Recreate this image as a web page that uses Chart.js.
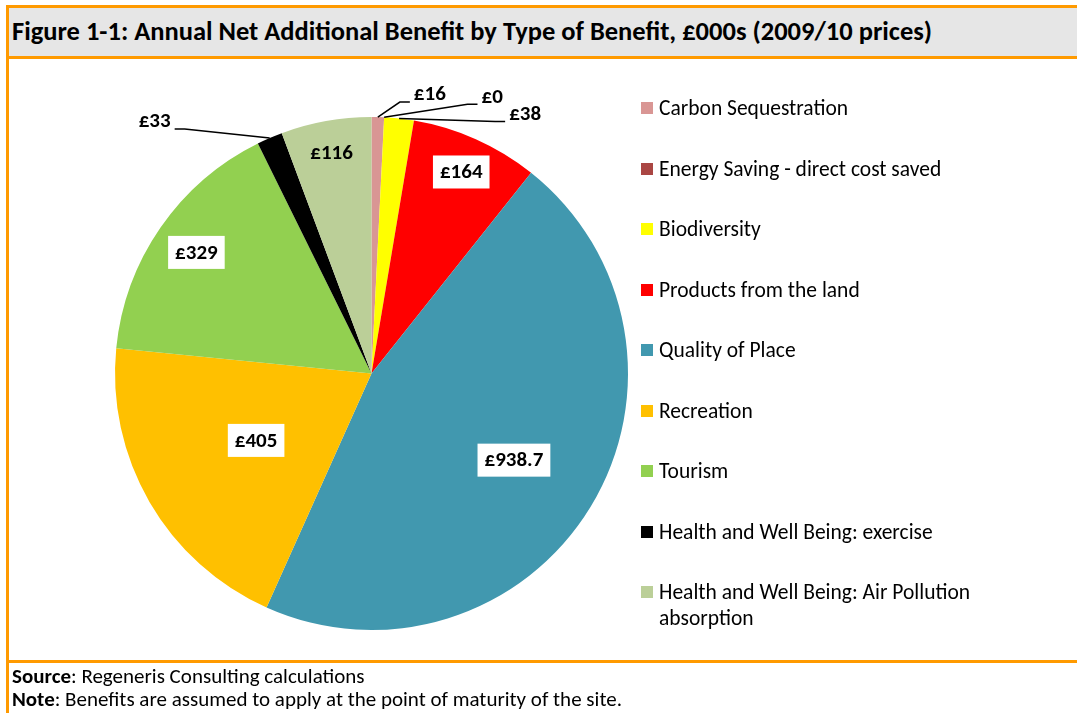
<!DOCTYPE html>
<html>
<head>
<meta charset="utf-8">
<title>Figure 1-1</title>
<script src="https://cdn.jsdelivr.net/npm/chart.js@4.4.1/dist/chart.umd.min.js"></script>
<style>
  body { margin: 0; background: #fff; font-family: Calibri, Carlito, Lato, sans-serif; color: #000; }
  #fig { position: relative; width: 1077px; height: 713px; overflow: hidden; }
  .raya { position: absolute; background: #FF9A00; }
  #cabecera { position: absolute; left: 9px; top: 8px; width: 1068px; height: 48px; background: #E6E6E6; }
  #cabecera span { position: absolute; left: 3px; top: 0; line-height: 47px; font-weight: bold; font-size: 26.5px; white-space: nowrap; }
  #grafica { position: absolute; left: 0; top: 0; }
  #leyenda { position: absolute; left: 641px; top: 95px; margin: 0; padding: 0; list-style: none; font-size: 21.5px; }
  #leyenda li { display: flex; align-items: flex-start; line-height: 26px; margin-bottom: 34.5px; }
  #leyenda i { flex: none; width: 12px; height: 12px; margin: 7px 6px 0 0; }
  #leyenda span { width: 330px; }
  #pie { position: absolute; left: 12px; top: 665px; font-size: 21px; line-height: 23px; }
</style>
</head>
<body>
<div id="fig">
  <div id="cabecera"><span>Figure 1-1: Annual Net Additional Benefit by Type of Benefit, £000s (2009/10 prices)</span></div>
  <div class="raya" style="left:6px; top:5px; width:1071px; height:3px"></div>
  <div class="raya" style="left:6px; top:56px; width:1071px; height:3px"></div>
  <div class="raya" style="left:6px; top:660px; width:1071px; height:3px"></div>
  <div class="raya" style="left:6px; top:5px; width:3px; height:708px"></div>
  <canvas id="grafica" width="1077" height="713"></canvas>
  <ul id="leyenda"></ul>
  <div id="pie">
    <div><b>Source</b>: Regeneris Consulting calculations</div>
    <div><b>Note</b>: Benefits are assumed to apply at the point of maturity of the site.</div>
  </div>
</div>
<script>
// tipos de beneficio, en el orden del gráfico (empieza arriba, sentido horario)
var categorias = [
  'Carbon Sequestration',
  'Energy Saving - direct cost saved',
  'Biodiversity',
  'Products from the land',
  'Quality of Place',
  'Recreation',
  'Tourism',
  'Health and Well Being: exercise',
  'Health and Well Being: Air Pollution absorption'
];
// beneficio neto anual, £000s
var valores = [16, 0, 38, 164, 938.7, 405, 329, 33, 116];
var colores = ['#D99694', '#AA4643', '#FFFF00', '#FF0000', '#4198AF', '#FFC000', '#92D050', '#000000', '#BBCF98'];

// etiquetas de datos: dentro del sector (con o sin caja) o fuera con línea guía
var etiquetasPlugin = {
  id: 'etiquetas',
  afterDatasetsDraw: function (chart, args, opts) {
    var ctx = chart.ctx;
    var meta = chart.getDatasetMeta(0);
    var datos = chart.data.datasets[0].data;
    ctx.save();
    ctx.font = opts.font;
    ctx.textAlign = 'center';
    ctx.textBaseline = 'middle';
    meta.data.forEach(function (arc, i) {
      var p = arc.getProps(['x', 'y', 'startAngle', 'endAngle', 'outerRadius'], true);
      var mid = (p.startAngle + p.endAngle) / 2;
      var texto = '£' + datos[i];
      var w = ctx.measureText(texto).width;
      var fuera = opts.fuera[i];
      if (fuera) {
        var ax = p.x + Math.cos(mid) * p.outerRadius;
        var ay = p.y + Math.sin(mid) * p.outerRadius;
        var lx = ax + fuera[0], ly = ay + fuera[1];
        var lado = fuera[0] < 0 ? 1 : -1;
        var ex = lx + lado * (w / 2 + 4), ey = ly + 7;
        ctx.strokeStyle = '#000';
        ctx.lineWidth = 1.5;
        ctx.beginPath();
        ctx.moveTo(ex, ey);
        ctx.lineTo(ex + lado * 10, ey);
        ctx.lineTo(ax, ay);
        ctx.stroke();
        ctx.fillStyle = '#000';
        ctx.fillText(texto, lx, ly);
      } else {
        var r = p.outerRadius * opts.radio[i];
        var cx = p.x + Math.cos(mid) * r, cy = p.y + Math.sin(mid) * r;
        if (opts.caja[i]) {
          ctx.fillStyle = '#fff';
          ctx.fillRect(cx - w / 2 - 7, cy - 16.5, w + 14, 33);
        }
        ctx.fillStyle = '#000';
        ctx.fillText(texto, cx, cy + 1);
      }
    });
    ctx.restore();
  }
};

var ctx = document.getElementById('grafica').getContext('2d');
var miGrafica = new Chart(ctx, {
  type: 'pie',
  data: {
    labels: categorias,
    datasets: [{
      data: valores,
      backgroundColor: colores,
      borderWidth: 0
    }]
  },
  options: {
    responsive: false,
    animation: false,
    layout: { padding: { left: 115, right: 449, top: 117, bottom: 83 } },
    plugins: {
      legend: { display: false },
      tooltip: { enabled: false },
      etiquetas: {
        font: 'bold 21px Calibri, Carlito, Lato, sans-serif',
        radio: [0, 0, 0, 0.86, 0.65, 0.52, 0.83, 0, 0.875],
        caja: [false, false, false, true, true, true, true, false, false],
        fuera: { 0: [52, -22], 1: [108, -20], 2: [126, -4], 7: [-115, -16] }
      }
    }
  },
  plugins: [etiquetasPlugin]
});

// leyenda a la derecha
var ul = document.getElementById('leyenda');
for (var i in categorias) {
  var li = document.createElement('li');
  li.innerHTML = '<i style="background:' + colores[i] + '"></i><span>' + categorias[i] + '</span>';
  ul.appendChild(li);
}
</script>
</body>
</html>
